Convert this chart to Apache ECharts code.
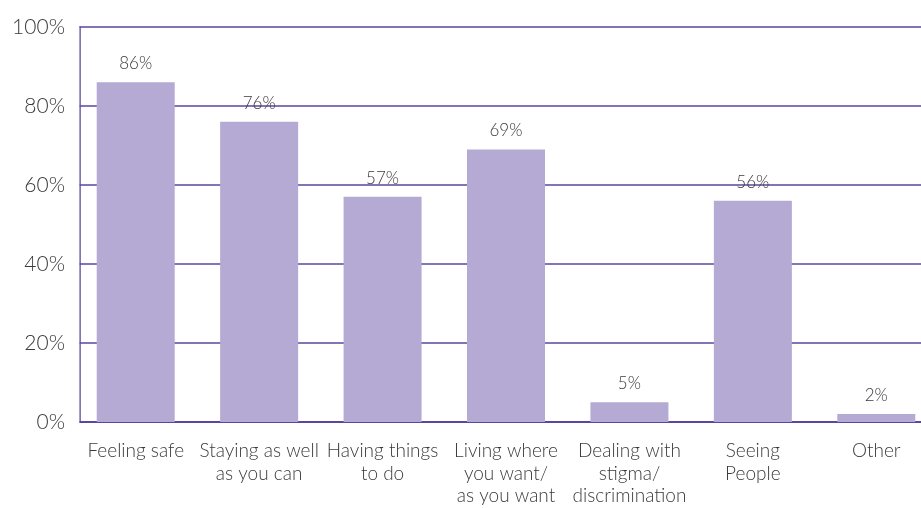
<!DOCTYPE html>
<html>
<head>
<meta charset="utf-8">
<title>Priorities</title>
<script src="https://cdn.jsdelivr.net/npm/echarts@6/dist/echarts.min.js"></script>
<style>
  html, body { margin: 0; padding: 0; background: #ffffff; overflow: hidden; width: 921px; height: 508px; }
  /* the plot runs slightly past the right edge of the page */
  #chart { width: 938px; height: 508px; }
</style>
</head>
<body>
<div id="chart"></div>
<script>
// Categories (line breaks as they wrap under each bar)
const categories = [
  'Feeling safe',
  'Staying as well\nas you can',
  'Having things\nto do',
  'Living where\nyou want/\nas you want',
  'Dealing with\nstigma/\ndiscrimination',
  'Seeing\nPeople',
  'Other'
];
// Share of respondents, percent
const values = [86, 76, 57, 69, 5, 56, 2];
// Percent axis ticks
const yTicks = [0, 20, 40, 60, 80, 100];

const purple = '#5c45a1';
const barColor = '#b4aad4';
const textColor = '#3a3a3a';
const fontFamily = 'Lato, "Open Sans", sans-serif';

const chart = echarts.init(document.getElementById('chart'), null, { renderer: 'canvas' });

chart.setOption({
  animation: false,
  textStyle: { fontFamily: fontFamily, fontWeight: 300 },
  grid: { left: 74, right: 0, top: 27, bottom: 86, containLabel: false },
  xAxis: {
    type: 'category',
    data: categories,
    axisLine: { show: true, lineStyle: { color: purple, width: 2 } },
    axisTick: { show: false },
    axisLabel: {
      interval: 0,
      fontSize: 19,
      lineHeight: 22.5,
      margin: 18,
      color: textColor,
      fontFamily: fontFamily,
      fontWeight: 300
    }
  },
  yAxis: {
    type: 'value',
    min: yTicks[0],
    max: yTicks[yTicks.length - 1],
    interval: yTicks[1] - yTicks[0],
    offset: -6,
    axisLine: { show: true, lineStyle: { color: purple, width: 1.5 } },
    axisTick: { show: false },
    splitLine: { show: true, lineStyle: { color: purple, width: 1.5 } },
    axisLabel: {
      formatter: '{value}%',
      fontSize: 21,
      margin: 15,
      color: textColor,
      fontFamily: fontFamily,
      fontWeight: 300,
      verticalAlign: 'middle',
      padding: [0, 0, 16, 0]
    }
  },
  // keeps the grid lines from poking out left of the vertical axis
  graphic: [{
    type: 'rect',
    z: 5,
    shape: { x: 66, y: 15, width: 13.3, height: 415 },
    style: { fill: '#ffffff' },
    silent: true
  }],
  series: [{
    type: 'bar',
    data: values,
    barWidth: 78,
    itemStyle: { color: barColor },
    label: {
      show: true,
      position: 'top',
      distance: 10,
      formatter: '{c}%',
      fontSize: 17,
      color: textColor,
      fontFamily: fontFamily,
      fontWeight: 300
    }
  }]
});
</script>
</body>
</html>
